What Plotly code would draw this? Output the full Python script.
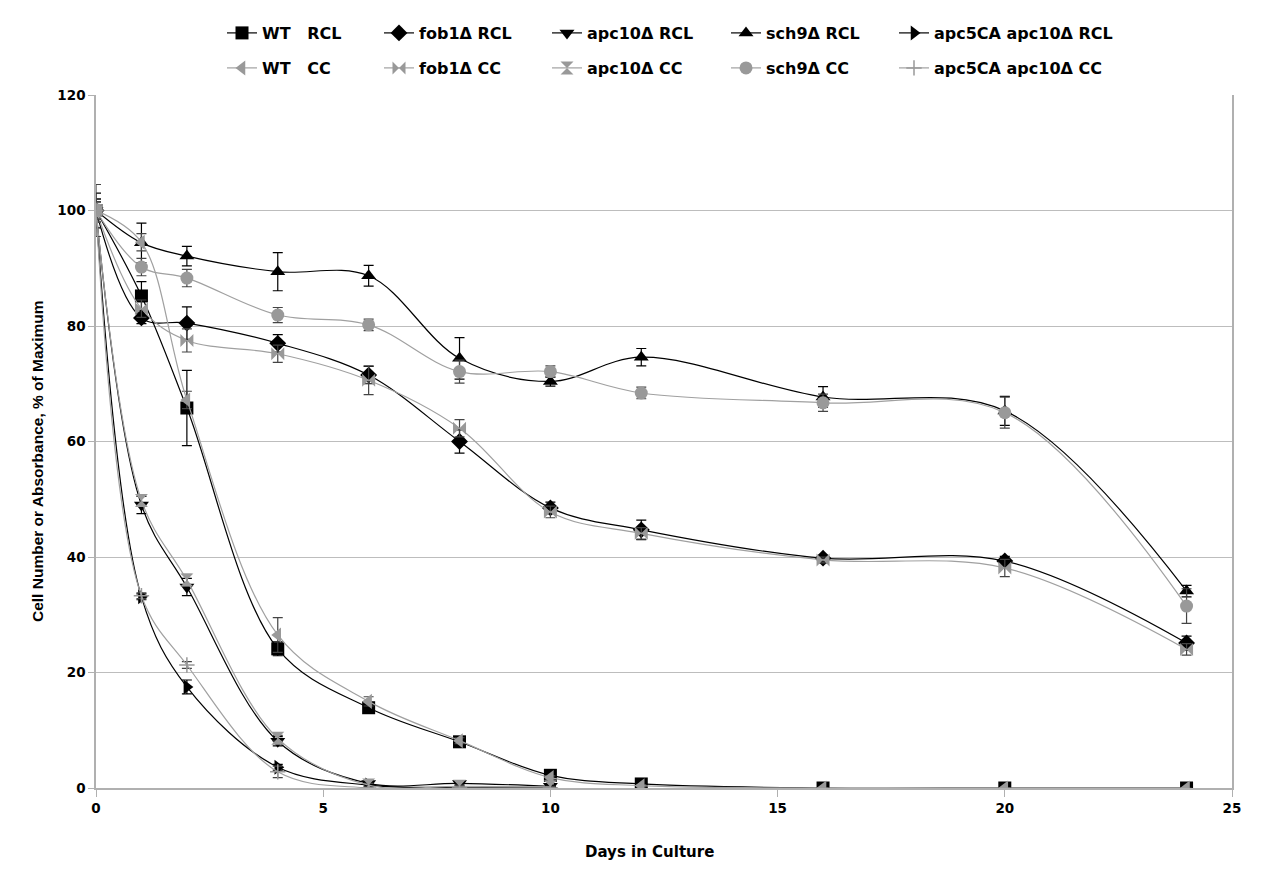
import plotly.graph_objects as go

days_full = [0, 1, 2, 4, 6, 8, 10, 12, 16, 20, 24]
days_short = [0, 1, 2, 4, 6, 8, 10]

wt_rcl = [100, 85.2, 65.8, 24.1, 13.9, 8.0, 2.2, 0.7, 0, 0, 0]
wt_rcl_err = [2, 2.5, 6.5, 1.2, 0.8, 0.5, 0.5, 0.3, 0, 0, 0]
fob1_rcl = [100, 81.4, 80.5, 77.0, 71.5, 60.0, 48.5, 44.7, 39.8, 39.3, 25.1]
fob1_rcl_err = [2, 1, 2.8, 1.5, 1.5, 2, 1, 1.7, 0.5, 0.8, 1.2]
apc10_rcl = [100, 49.0, 34.8, 8.1, 0.8, 0.8, 0.3]
apc10_rcl_err = [2, 1.5, 1.5, 0.8, 0.3, 0.3, 0.2]
sch9_rcl = [100, 94.4, 92.1, 89.4, 88.7, 74.4, 70.4, 74.6, 67.7, 65.3, 34.1]
sch9_rcl_err = [3, 3.4, 1.7, 3.3, 1.8, 3.6, 0.8, 1.5, 1.8, 2.5, 1.0]
apc5_rcl = [100, 33.1, 17.5, 3.6, 0.5, 0.1, 0.1]
apc5_rcl_err = [1.5, 0.5, 1.2, 0.5, 0.2, 0.1, 0.1]

wt_cc = [100, 94.5, 67.2, 26.5, 15.0, 8.2, 1.8, 0.4, 0, 0, 0]
wt_cc_err = [2, 1.5, 1.5, 3.0, 0.8, 0.5, 0.3, 0.2, 0, 0, 0]
fob1_cc = [100, 83.0, 77.5, 75.2, 70.6, 62.3, 47.8, 44.1, 39.5, 38.1, 24.0]
fob1_cc_err = [2, 1.5, 2, 1.5, 2.5, 1.5, 1, 1, 0.5, 1.5, 1]
apc10_cc = [100, 49.8, 36.0, 8.6, 0.5, 0.3, 0.2]
apc10_cc_err = [2, 1, 1, 0.5, 0.3, 0.2, 0.1]
sch9_cc = [100, 90.2, 88.3, 81.9, 80.2, 72.1, 72.1, 68.4, 66.7, 65.0, 31.5]
sch9_cc_err = [4.5, 1.5, 1.5, 1.3, 1.0, 2.0, 1.0, 1.0, 1.5, 2.7, 3.0]
apc5_cc = [100, 33.3, 21.3, 2.8, 0, 0, 0]
apc5_cc_err = [1.5, 0.5, 0.6, 1.0, 0, 0, 0]

BLACK = "#000000"
GRAY = "#a0a0a0"
GRAY_M = "#999999"

series = [
    ("WT\u00a0\u00a0 RCL", days_full, wt_rcl, wt_rcl_err, "square", BLACK, BLACK, 13),
    ("fob1Δ RCL", days_full, fob1_rcl, fob1_rcl_err, "diamond", BLACK, BLACK, 13),
    ("apc10Δ RCL", days_short, apc10_rcl, apc10_rcl_err, "triangle-down", BLACK, BLACK, 13),
    ("sch9Δ RCL", days_full, sch9_rcl, sch9_rcl_err, "triangle-up", BLACK, BLACK, 13),
    ("apc5CA apc10Δ RCL", days_short, apc5_rcl, apc5_rcl_err, "triangle-right", BLACK, BLACK, 13),
    ("WT\u00a0\u00a0 CC", days_full, wt_cc, wt_cc_err, "triangle-left", GRAY, GRAY_M, 13),
    ("fob1Δ CC", days_full, fob1_cc, fob1_cc_err, "bowtie", GRAY, GRAY_M, 13),
    ("apc10Δ CC", days_short, apc10_cc, apc10_cc_err, "hourglass", GRAY, GRAY_M, 13),
    ("sch9Δ CC", days_full, sch9_cc, sch9_cc_err, "circle", GRAY, GRAY_M, 13),
    ("apc5CA apc10Δ CC", days_short, apc5_cc, apc5_cc_err, "cross-thin", GRAY, GRAY_M, 11),
]

# legend entry marker centres (screen px) and row centres
legend_cols = [240, 397, 565, 744, 912]
legend_rows = [33, 68]

# page body offset (default 8px margin) compensation
OFF = 8
W, H = 1273 - 2 * OFF, 887 - 2 * OFF
PL, PR, PT, PB = 96, 1232, 95, 788  # plot area in screen px
ml, mt = PL - OFF, PT - OFF
mr = W - (PR - OFF)
mb = H - (PB - OFF)
pw, ph = PR - PL, PB - PT

font_main = "Liberation Sans, Arial, sans-serif"
font_wide = "DejaVu Sans, Verdana, sans-serif"

fig = go.Figure()
layout_legends = {}
for i, (name, x, y, err, sym, lc, mc, ms) in enumerate(series):
    marker = dict(symbol=sym, size=ms, color=mc)
    if sym == "cross-thin":
        marker["line"] = dict(color=mc, width=1.5)
    key = "legend" if i == 0 else f"legend{i + 1}"
    fig.add_trace(go.Scatter(
        x=x, y=y, name=name, mode="lines+markers",
        line=dict(color=lc, width=1.2, shape="spline", smoothing=1.0),
        marker=marker,
        error_y=dict(type="data", array=err, visible=True,
                     color=BLACK if lc == BLACK else "#444444", thickness=1.2, width=5),
        legend=key,
    ))
    col = legend_cols[i % 5]
    row = legend_rows[i // 5]
    box_left = col - 18
    layout_legends[key] = dict(
        x=(box_left - PL) / pw, y=(PB - row) / ph,
        xanchor="left", yanchor="middle", orientation="h",
        font=dict(family=font_wide, size=16, color="#000000", weight="bold"),
        bgcolor="rgba(0,0,0,0)", itemwidth=30,
    )

tickfont = dict(family=font_wide, size=13.5, color="#000000", weight="bold")

fig.update_layout(
    width=W, height=H,
    margin=dict(l=ml, r=mr, t=mt, b=mb, autoexpand=False),
    paper_bgcolor="white", plot_bgcolor="white",
    font=dict(family=font_main, size=14, color="#000000"),
    showlegend=True,
    xaxis=dict(range=[0, 25], tickvals=[0, 5, 10, 15, 20, 25], showgrid=False,
               showline=True, linecolor="#b0b0b0", linewidth=1.5, zeroline=False,
               ticks="outside", ticklen=7, tickcolor="#b0b0b0", tickfont=tickfont,
               automargin=False),
    yaxis=dict(range=[0, 120], tickvals=[0, 20, 40, 60, 80, 100, 120], showgrid=True,
               gridcolor="#bdbdbd", gridwidth=1, showline=True, linecolor="#b0b0b0",
               linewidth=1.5, mirror=True, zeroline=False,
               ticks="outside", ticklen=6, tickcolor="#b0b0b0", tickfont=tickfont,
               automargin=False),
    annotations=[
        dict(text="<b>Days in Culture</b>", xref="paper", yref="paper",
             x=(649 - PL) / pw, y=-(852 - PB) / ph, xanchor="center", yanchor="middle",
             showarrow=False, font=dict(family=font_wide, size=15)),
        dict(text="<b>Cell Number or Absorbance, % of Maximum</b>", textangle=-90,
             xref="paper", yref="paper",
             x=(37 - PL) / pw, y=(PB - 461) / ph, xanchor="center", yanchor="middle",
             showarrow=False, font=dict(family=font_main, size=15.5)),
    ],
    **layout_legends,
)

fig.write_html("out.html")
